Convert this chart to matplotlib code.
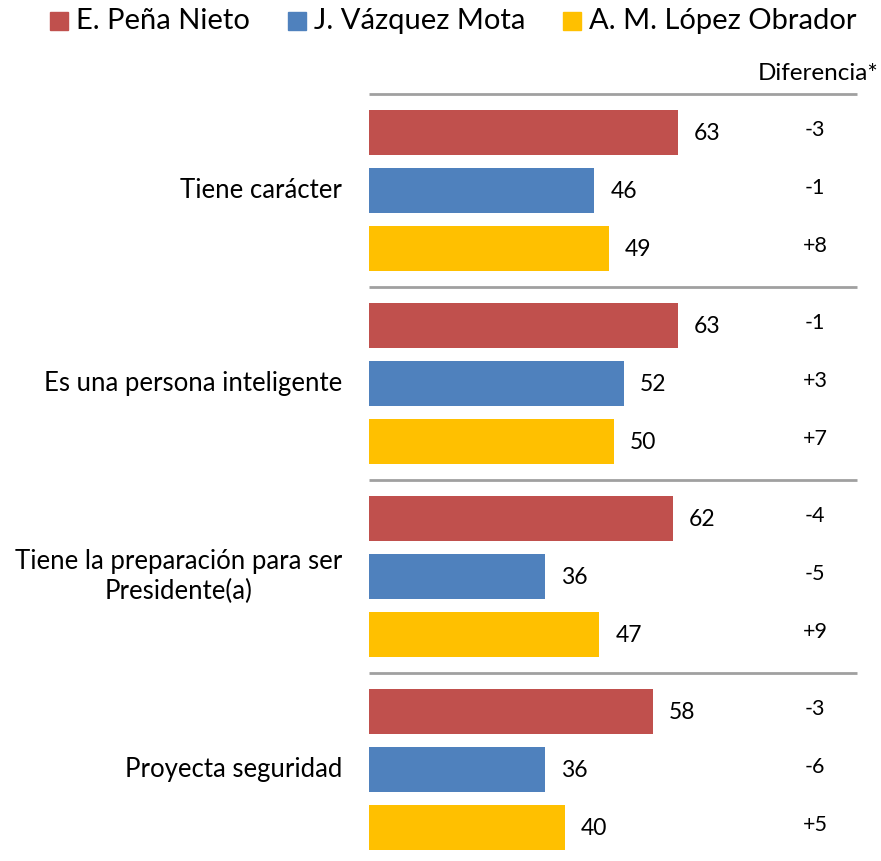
import numpy as np
import matplotlib
matplotlib.use('Agg')
import matplotlib.pyplot as plt

plt.rcParams['font.family'] = ['Lato', 'DejaVu Sans']

# datos
categorias = ['Tiene carácter', 'Es una persona inteligente',
              'Tiene la preparación para ser\nPresidente(a)', 'Proyecta seguridad']
candidatos = ['E. Peña Nieto', 'J. Vázquez Mota', 'A. M. López Obrador']
pena = [63, 63, 62, 58]
vazquez = [46, 52, 36, 36]
lopez = [49, 50, 47, 40]
dif_pena = ['-3', '-1', '-4', '-3']
dif_vazquez = ['-1', '+3', '-5', '-6']
dif_lopez = ['+8', '+7', '+9', '+5']

colores = ['#C0504D', '#4F81BD', '#FFC000']

W, H = 881, 861
fig = plt.figure(figsize=(W / 100, H / 100), dpi=100)
ax = fig.add_axes([0, 0, 1, 1])

# escala: 4.9 px por punto, 58 px por barra
px_x = 4.9
px_y = 58.0
x0 = 369
y0 = 132.5
ax.set_xlim(-x0 / px_x, (W - x0) / px_x)
ax.set_ylim((H - y0) / px_y, -y0 / px_y)
ax.axis('off')

periodo = 193 / px_y
series = [pena, vazquez, lopez]
difs = [dif_pena, dif_vazquez, dif_lopez]

for g in range(len(categorias)):
    base = g * periodo
    for k in range(3):
        y = base + k
        v = series[k][g]
        ax.barh(y, v, height=45 / px_y, color=colores[k], edgecolor='none')
        ax.text(v + 16 / px_x, y + 0.02, str(v), ha='left', va='center', fontsize=16.5)
        ax.text((815 - x0) / px_x, y - 0.05, difs[k][g], ha='center', va='center', fontsize=15.5)
    ax.text(-27 / px_x, base + 1, categorias[g], ha='right', va='center',
            multialignment='center', fontsize=18.5, linespacing=1.25)
    # lineas separadoras
    ax.plot([0, (857 - x0) / px_x], [base - 0.665, base - 0.665],
            color='#A0A0A0', lw=2, solid_capstyle='butt')

ax.text((878 - x0) / px_x, (74 - y0) / px_y, 'Diferencia*', ha='right', va='center',
        fontsize=17.5)

# leyenda
ley_x = [50, 288, 563]
for i in range(3):
    fig.patches.append(plt.Rectangle((ley_x[i] / W, 1 - 30 / H), 18 / W, 18 / H,
                                     transform=fig.transFigure, color=colores[i]))
    fig.text((ley_x[i] + 26) / W, 1 - 21 / H, candidatos[i], ha='left', va='center',
             fontsize=21)

fig.savefig('out.png', dpi=100)
